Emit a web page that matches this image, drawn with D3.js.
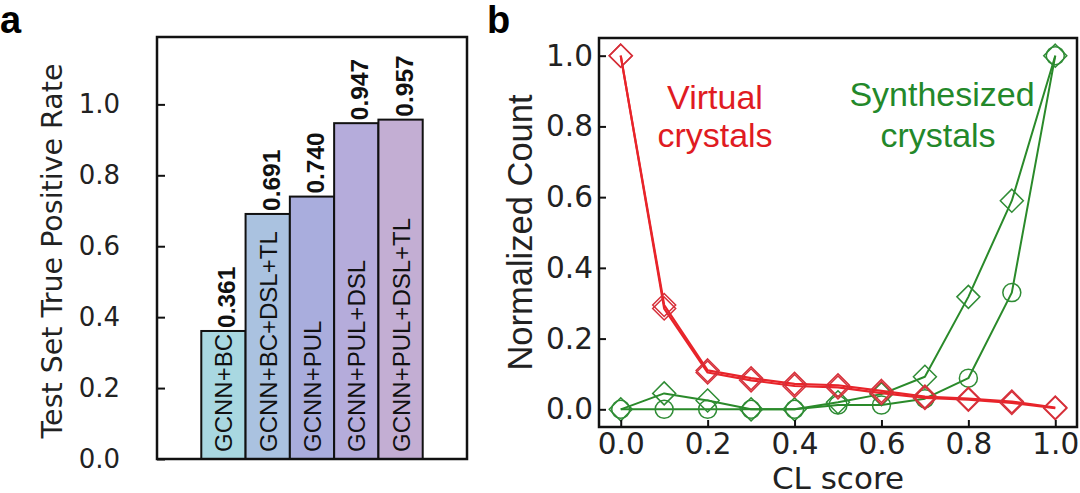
<!DOCTYPE html>
<html>
<head>
<meta charset="utf-8">
<script src="https://cdn.jsdelivr.net/npm/d3@7"></script>
<style>
  html, body { margin: 0; padding: 0; background: #ffffff; }
  svg { display: block; }
</style>
</head>
<body>
<svg id="chart" width="1080" height="493"></svg>
<script>
// ---------------- DATA ----------------
const categories = ["GCNN+BC", "GCNN+BC+DSL+TL", "GCNN+PUL", "GCNN+PUL+DSL", "GCNN+PUL+DSL+TL"];
const tprValues = [0.361, 0.691, 0.740, 0.947, 0.957];
const tprLabels = ["0.361", "0.691", "0.740", "0.947", "0.957"];
const barColors = ["#a9d8e1", "#aac2e0", "#a9addd", "#b5acdb", "#c3aed3"];
const tprTicks = [0.0, 0.2, 0.4, 0.6, 0.8, 1.0];

const clScores = [0.0, 0.1, 0.2, 0.3, 0.4, 0.5, 0.6, 0.7, 0.8, 0.9, 1.0];
const virtualDiamondA = [1.0, 0.295, 0.110, 0.088, 0.072, 0.068, 0.052, 0.036, 0.030, 0.022, 0.005];
const virtualDiamondB = [1.0, 0.285, 0.104, 0.082, 0.066, 0.062, 0.046, 0.032, 0.027, 0.018, 0.003];
const synthDiamond = [0.0, 0.045, 0.025, 0.0, 0.0, 0.020, 0.043, 0.092, 0.318, 0.590, 1.0];
const synthCircle = [0.0, 0.0, 0.0, 0.0, 0.0, 0.012, 0.012, 0.030, 0.088, 0.330, 1.0];
const clTicks = [0.0, 0.2, 0.4, 0.6, 0.8, 1.0];
const countTicks = [0.0, 0.2, 0.4, 0.6, 0.8, 1.0];

// ---------------- DRAW ----------------
const svg = d3.select("#chart");
const tickFont = "DejaVu Sans";
const arial = "Liberation Sans, Arial, sans-serif";
const red = "#e8242a", redEdge = "#d6303a";
const green = "#2a8a2a", greenEdge = "#2f8c35";

// ===== Panel a =====
const A = { left: 157, right: 467, top: 37, bottom: 459 };
const xa = d3.scaleBand().domain(categories).range([A.left, A.right]).paddingInner(0).paddingOuter(1);
const ya = d3.scaleLinear().domain([0, 1.19]).range([A.bottom, A.top]);

const ga = svg.append("g");
ga.selectAll("rect.bar").data(categories).join("rect")
  .attr("class", "bar")
  .attr("x", d => xa(d))
  .attr("y", (d, i) => ya(tprValues[i]))
  .attr("width", xa.bandwidth())
  .attr("height", (d, i) => ya(0) - ya(tprValues[i]))
  .attr("fill", (d, i) => barColors[i])
  .attr("stroke", "#111")
  .attr("stroke-width", 2);

// category labels inside bars
ga.selectAll("text.cat").data(categories).join("text")
  .attr("class", "cat")
  .attr("transform", d => `translate(${xa(d) + xa.bandwidth() / 2 + 9},${ya(0) - 7}) rotate(-90)`)
  .attr("text-anchor", "start")
  .attr("font-family", arial)
  .attr("font-size", 24)
  .attr("fill", "#111")
  .text(d => d);

// value labels above bars
ga.selectAll("text.val").data(categories).join("text")
  .attr("class", "val")
  .attr("transform", (d, i) => `translate(${xa(d) + xa.bandwidth() / 2 + 12},${ya(tprValues[i]) - 3}) rotate(-90)`)
  .attr("text-anchor", "start")
  .attr("font-family", arial)
  .attr("font-weight", "bold")
  .attr("font-size", 24.5)
  .attr("fill", "#111")
  .text((d, i) => tprLabels[i]);

// y axis panel a
const axA = ga.append("g").attr("transform", `translate(${A.left},0)`)
  .call(d3.axisLeft(ya).tickValues(tprTicks).tickFormat(d3.format(".1f")).tickSize(-8).tickPadding(37));
axA.select(".domain").remove();
axA.selectAll(".tick line").attr("stroke", "#111").attr("stroke-width", 2);
axA.selectAll(".tick text").attr("font-family", tickFont).attr("font-size", 26).attr("fill", "#222");

ga.append("rect")
  .attr("x", A.left).attr("y", A.top)
  .attr("width", A.right - A.left).attr("height", A.bottom - A.top)
  .attr("fill", "none").attr("stroke", "#111").attr("stroke-width", 2.5);

ga.append("text")
  .attr("transform", `translate(62,${(A.top + A.bottom) / 2 + 3}) rotate(-90)`)
  .attr("text-anchor", "middle")
  .attr("font-family", tickFont)
  .attr("font-size", 28.5)
  .attr("fill", "#222")
  .text("Test Set True Positive Rate");

svg.append("text").attr("x", 0).attr("y", 33)
  .attr("font-family", arial)
  .attr("font-weight", "bold").attr("font-size", 38).attr("fill", "#000").text("a");

// ===== Panel b =====
const B = { left: 599, right: 1077, top: 38, bottom: 427 };
const xb = d3.scaleLinear().domain([-0.05, 1.05]).range([B.left, B.right]);
const yb = d3.scaleLinear().domain([-0.05, 1.05]).range([B.bottom, B.top]);
const gb = svg.append("g");

const lineGen = d3.line().x(d => xb(d[0])).y(d => yb(d[1]));
const series = [
  { vals: synthCircle, color: green, edge: greenEdge, marker: "circle", width: 2 },
  { vals: synthDiamond, color: green, edge: greenEdge, marker: "diamond", width: 2 },
  { vals: virtualDiamondB, color: red, edge: redEdge, marker: "diamond", width: 2.2 },
  { vals: virtualDiamondA, color: red, edge: redEdge, marker: "diamond", width: 2.2 }
];
const diamondPath = r => `M0,${-r}L${r},0L0,${r}L${-r},0Z`;

series.forEach(s => {
  const pts = clScores.map((x, i) => [x, s.vals[i]]);
  gb.append("path").datum(pts)
    .attr("d", lineGen)
    .attr("fill", "none")
    .attr("stroke", s.color)
    .attr("stroke-width", s.width)
    .attr("stroke-linejoin", "round");
  if (s.marker === "circle") {
    gb.selectAll(null).data(pts).join("circle")
      .attr("cx", d => xb(d[0])).attr("cy", d => yb(d[1])).attr("r", 9)
      .attr("fill", "none").attr("stroke", s.edge).attr("stroke-width", 1.5);
  } else {
    gb.selectAll(null).data(pts).join("path")
      .attr("transform", d => `translate(${xb(d[0])},${yb(d[1])})`)
      .attr("d", diamondPath(11.5))
      .attr("fill", "none").attr("stroke", s.edge).attr("stroke-width", 1.5);
  }
});

const axBx = gb.append("g").attr("transform", `translate(0,${B.bottom})`)
  .call(d3.axisBottom(xb).tickValues(clTicks).tickFormat(d3.format(".1f")).tickSize(-7).tickPadding(6));
axBx.select(".domain").remove();
axBx.selectAll(".tick line").attr("stroke", "#111").attr("stroke-width", 2);
axBx.selectAll(".tick text").attr("font-family", tickFont).attr("font-size", 29.5).attr("fill", "#222");

const axBy = gb.append("g").attr("transform", `translate(${B.left},0)`)
  .call(d3.axisLeft(yb).tickValues(countTicks).tickFormat(d3.format(".1f")).tickSize(-7).tickPadding(6));
axBy.select(".domain").remove();
axBy.selectAll(".tick line").attr("stroke", "#111").attr("stroke-width", 2);
axBy.selectAll(".tick text").attr("font-family", tickFont).attr("font-size", 29.5).attr("fill", "#222");

gb.append("rect")
  .attr("x", B.left).attr("y", B.top)
  .attr("width", B.right - B.left).attr("height", B.bottom - B.top)
  .attr("fill", "none").attr("stroke", "#111").attr("stroke-width", 2.5);

gb.append("text")
  .attr("transform", `translate(532,${(B.top + B.bottom) / 2}) rotate(-90)`)
  .attr("text-anchor", "middle")
  .attr("font-family", arial)
  .attr("font-size", 34.5)
  .attr("fill", "#222")
  .text("Normalized Count");

gb.append("text")
  .attr("x", (B.left + B.right) / 2).attr("y", 489)
  .attr("text-anchor", "middle")
  .attr("font-family", tickFont)
  .attr("font-size", 31)
  .attr("fill", "#222")
  .text("CL score");

const ann = [
  { text: "Virtual", x: 715, y: 109, color: "#e01b22" },
  { text: "crystals", x: 715, y: 147, color: "#e01b22" },
  { text: "Synthesized", x: 942, y: 106, color: "#23882a" },
  { text: "crystals", x: 938, y: 147, color: "#23882a" }
];
gb.selectAll("text.ann").data(ann).join("text")
  .attr("class", "ann")
  .attr("x", d => d.x).attr("y", d => d.y)
  .attr("text-anchor", "middle")
  .attr("font-family", arial)
  .attr("font-size", 34)
  .attr("fill", d => d.color)
  .text(d => d.text);

svg.append("text").attr("x", 487).attr("y", 33)
  .attr("font-family", arial)
  .attr("font-weight", "bold").attr("font-size", 38).attr("fill", "#000").text("b");
</script>
</body>
</html>
